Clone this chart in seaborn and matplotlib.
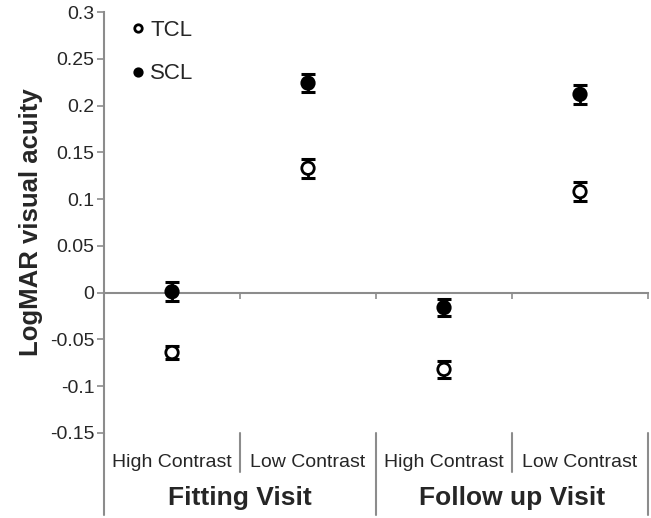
import matplotlib
matplotlib.use("Agg")
import matplotlib.pyplot as plt
import numpy as np
import pandas as pd
import seaborn as sns

sns.set_theme(style="white")
plt.rcParams["font.family"] = ["Liberation Sans", "DejaVu Sans"]

# --- data ---
conditions = ["Fitting HC", "Fitting LC", "Follow HC", "Follow LC"]
contrast_labels = ["High Contrast", "Low Contrast", "High Contrast", "Low Contrast"]
visit_labels = ["Fitting Visit", "Follow up Visit"]
lenses = ["TCL", "SCL"]
tcl_mean = [-0.064, 0.133, -0.082, 0.108]
tcl_err = [0.007, 0.010, 0.009, 0.010]
scl_mean = [0.001, 0.224, -0.016, 0.212]
scl_err = [0.010, 0.010, 0.009, 0.010]
yticks = [-0.15, -0.1, -0.05, 0, 0.05, 0.1, 0.15, 0.2, 0.25, 0.3]

df = pd.DataFrame({
    "condition": conditions * 2,
    "lens": ["TCL"] * 4 + ["SCL"] * 4,
    "mean": tcl_mean + scl_mean,
    "err": tcl_err + scl_err,
})

grey = "#8c8c8c"
fig = plt.figure(figsize=(6.51, 5.18), dpi=100)
ax = fig.add_axes([0.1598, 0.1641, 0.8356, 0.8127])

ax.errorbar(df["condition"], df["mean"], yerr=df["err"], fmt="none",
            ecolor="black", elinewidth=2, capsize=5, capthick=2.2, zorder=2)
sns.scatterplot(data=df, x="condition", y="mean", hue="lens", hue_order=lenses,
                palette={"TCL": "white", "SCL": "black"}, edgecolor="black",
                linewidth=2, s=80, ax=ax, zorder=3)

# legend
handles, labels = ax.get_legend_handles_labels()
ax.legend(handles, labels, loc="upper left", bbox_to_anchor=(0.005, 1.028),
          frameon=False, fontsize=16, markerscale=0.6, labelspacing=1.0,
          handletextpad=0.05, handlelength=1.0)

ax.set_xlim(-0.5, len(conditions) - 0.5)
ax.set_ylim(-0.15, 0.3)
ax.set_yticks(yticks)
ax.set_yticklabels([f"{v:g}" for v in yticks], fontsize=14)
ax.set_xticks(np.arange(len(conditions) + 1) - 0.5)
ax.set_xticklabels([])
ax.set_xlabel("")
ax.set_ylabel("LogMAR visual acuity", fontsize=18.5, fontweight="bold", labelpad=5)

for side in ["top", "right"]:
    ax.spines[side].set_visible(False)
ax.spines["left"].set_color(grey)
ax.spines["bottom"].set_color(grey)
ax.spines["left"].set_linewidth(1.5)
ax.spines["bottom"].set_linewidth(1.5)
ax.spines["bottom"].set_position(("data", 0))
ax.tick_params(axis="y", direction="out", length=5, color=grey, width=1.2, left=True, pad=2)
ax.tick_params(axis="x", direction="out", length=4, color=grey, width=1.2, bottom=True)

# category labels and separators below the plot
trans = ax.get_xaxis_transform()
for i, lab in enumerate(contrast_labels):
    ax.text(i, -0.07, lab, transform=trans, ha="center", va="center", fontsize=14)
for j, lab in enumerate(visit_labels):
    ax.text(2 * j + 0.5, -0.155, lab, transform=trans, ha="center", va="center",
            fontsize=19, fontweight="bold")
for k in range(len(conditions) + 1):
    xb = k - 0.5
    low = -0.195 if k % 2 == 0 else -0.093
    ax.plot([xb, xb], [0, low], transform=trans, color=grey, lw=1.5, clip_on=False)

fig.savefig("out.png", dpi=100)
